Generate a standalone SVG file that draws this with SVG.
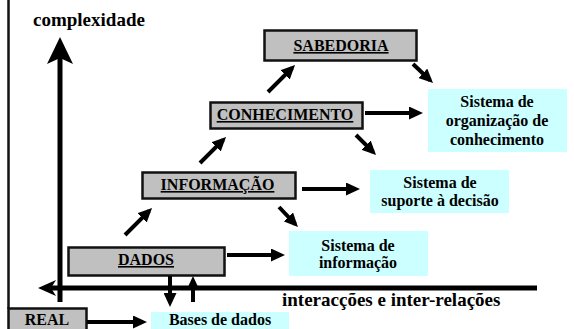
<svg xmlns="http://www.w3.org/2000/svg" width="574" height="329" viewBox="0 0 574 329">
<style>
text{font-family:"Liberation Serif","Times New Roman",serif;font-weight:bold;fill:#000}
.lbl{font-size:16px;text-anchor:middle;text-decoration:underline}
.sys{font-size:16px;text-anchor:middle}
.axis{font-size:19px}
.grey{fill:#c0c0c0;stroke:#111;stroke-width:2.5}
.cyan{fill:#ccffff;stroke:none}
.arr{stroke:#000;stroke-width:4;fill:none;marker-end:url(#ah)}
</style>
<defs>
<marker id="ah" markerUnits="userSpaceOnUse" markerWidth="14" markerHeight="13" viewBox="0 0 14 13" refX="10" refY="6.5" orient="auto">
<path d="M0,0 L14,6.5 L0,13 Z" fill="#000"/>
</marker>
</defs>
<rect width="574" height="329" fill="#fff"/>
<line x1="8.5" y1="0" x2="8.5" y2="309" stroke="#111" stroke-width="2.5"/>
<g id="axes">
<line x1="60" y1="302" x2="60" y2="58" stroke="#000" stroke-width="5"/>
<path d="M60,37 L73,64 L60,58 L47,64 Z" fill="#000"/>
<line x1="51" y1="288" x2="537" y2="288" stroke="#000" stroke-width="5"/>
<path d="M38,288 L56,280 L51,288 L56,296 Z" fill="#000"/>
<text class="axis" x="33" y="26">complexidade</text>
<text class="axis" x="282" y="306">interacções e inter-relações</text>
</g>
<g id="sabedoria">
<rect class="grey" x="264.5" y="30.5" width="152" height="30"/>
<text class="lbl" x="341" y="51">SABEDORIA</text>
</g>
<g id="conhecimento">
<rect class="grey" x="210.5" y="102.5" width="152" height="26"/>
<text class="lbl" x="285" y="120">CONHECIMENTO</text>
</g>
<g id="informacao">
<rect class="grey" x="142.5" y="172.5" width="153" height="26"/>
<text class="lbl" x="217.5" y="190">INFORMAÇÃO</text>
</g>
<g id="dados">
<rect class="grey" x="68.5" y="247.5" width="156" height="28"/>
<text class="lbl" x="146" y="265">DADOS</text>
</g>
<g id="real">
<rect class="grey" x="8.5" y="308.5" width="78" height="30"/>
<text class="sys" x="47" y="325">REAL</text>
</g>
<g id="sis-org">
<rect class="cyan" x="428" y="89" width="139" height="63"/>
<text class="sys" x="497" y="107">Sistema de</text>
<text class="sys" x="497" y="126">organização de</text>
<text class="sys" x="497" y="145">conhecimento</text>
</g>
<g id="sis-sup">
<rect class="cyan" x="370" y="170" width="139" height="43"/>
<text class="sys" x="440" y="188">Sistema de</text>
<text class="sys" x="440" y="206">suporte à decisão</text>
</g>
<g id="sis-inf">
<rect class="cyan" x="289" y="231" width="139" height="45"/>
<text class="sys" x="358" y="251">Sistema de</text>
<text class="sys" x="358" y="268">informação</text>
</g>
<g id="bases">
<rect class="cyan" x="151" y="312" width="138" height="20"/>
<text class="sys" x="220" y="325">Bases de dados</text>
</g>
<g id="connectors">
<line class="arr" x1="125" y1="235" x2="149.2" y2="210.8"/>
<line class="arr" x1="200" y1="163" x2="223.2" y2="139.8"/>
<line class="arr" x1="268" y1="92" x2="292.2" y2="67.8"/>
<line class="arr" x1="413" y1="64" x2="430.1" y2="80.2"/>
<line class="arr" x1="356" y1="135" x2="373.2" y2="152.2"/>
<line class="arr" x1="279" y1="207" x2="295.2" y2="224.2"/>
<line class="arr" x1="227" y1="255" x2="281" y2="255"/>
<line class="arr" x1="302" y1="189" x2="356" y2="189"/>
<line class="arr" x1="365" y1="113" x2="419" y2="113"/>
<line class="arr" x1="87" y1="322" x2="143" y2="322"/>
<line class="arr" x1="170" y1="276" x2="170" y2="303"/>
<line class="arr" x1="193" y1="302" x2="193" y2="280"/>
</g>
</svg>
